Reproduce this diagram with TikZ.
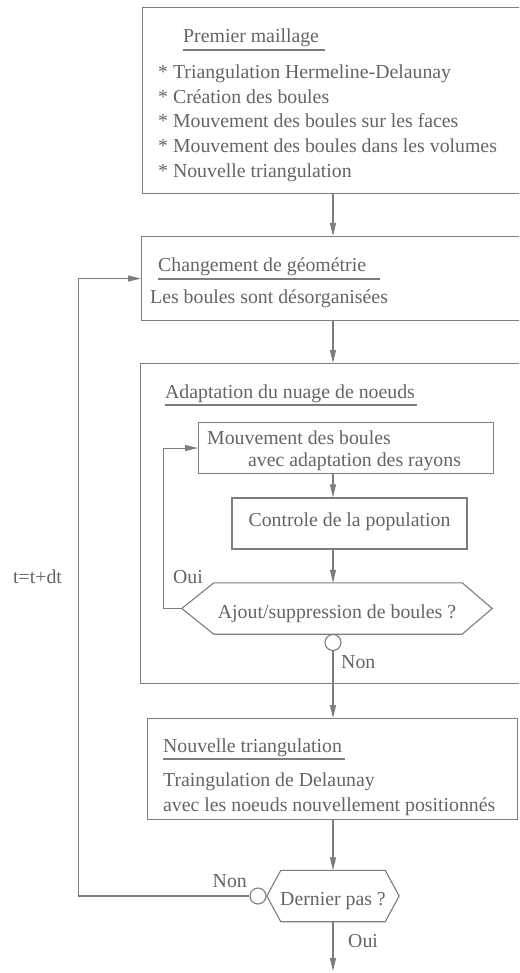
\documentclass[tikz,border=0pt]{standalone}
\usepackage{fontspec}
\setmainfont{Liberation Serif}
\usetikzlibrary{arrows.meta, positioning}
\definecolor{linegray}{RGB}{125,125,125}
\definecolor{textgray}{RGB}{100,100,100}
\newcommand{\boxfont}{\fontsize{19.8}{24}\selectfont}

\begin{document}
\begin{tikzpicture}[x=1pt, y=-1pt,
    box/.style={rectangle, draw=linegray, line width=1.1pt, anchor=north west, inner sep=0pt},
    inbox/.style={rectangle, draw=linegray, line width=1.1pt, inner sep=0pt,
                  minimum height=51pt, text=textgray, font=\boxfont},
    hexa/.style={inner sep=0pt, minimum height=51pt, text height=19pt, text depth=0pt,
                 text=textgray, font=\boxfont},
    txt/.style={anchor=base west, inner sep=0pt, text=textgray, font=\boxfont},
    rond/.style={circle, draw=linegray, line width=1.1pt, minimum size=16pt, inner sep=0pt},
    ln/.style={draw=linegray, line width=1.1pt},
    arr/.style={ln, -{Triangle[length=13pt, width=6pt]}}
  ]
  \clip (0,0) rectangle (519,973);
  \coordinate (spine) at (333,0);

  % premier maillage
  \node[box, minimum width=390pt, minimum height=186pt] (premier) at (142,7) {};
  \node[txt] (premtitle) at (183,43) {Premier maillage};
  \node[txt] (prem1) at (158,79) {* Triangulation Hermeline-Delaunay};
  \node[txt] (prem2) at (158,104) {* Création des boules};
  \node[txt] (prem3) at (158,128) {* Mouvement des boules sur les faces};
  \node[txt] (prem4) at (158,153) {* Mouvement des boules dans les volumes};
  \node[txt] (prem5) at (158,178) {* Nouvelle triangulation};
  \draw[ln] ([yshift=-7pt]premtitle.base west) -- ([xshift=6pt, yshift=-7pt]premtitle.base east);

  % changement de geometrie
  \node[box, minimum width=390pt, minimum height=84pt] (geom) at (141,236) {};
  \node[txt] (geomtitle) at (158,272) {Changement de géométrie};
  \node[txt] (geom1) at (150,303) {Les boules sont désorganisées};
  \draw[ln] ([yshift=-7pt]geomtitle.base west) -- ([xshift=14pt, yshift=-7pt]geomtitle.base east);

  % adaptation du nuage
  \node[box, minimum width=390pt, minimum height=320pt] (adapt) at (140,363) {};
  \node[txt] (adapttitle) at (165,398) {Adaptation du nuage de noeuds};
  \draw[ln] ([yshift=-7pt]adapttitle.base west) -- ([xshift=2pt, yshift=-7pt]adapttitle.base east);

  \node[box, minimum width=295pt, minimum height=51pt] (mouv) at (198,422) {};
  \node[txt, align=left, font=\fontsize{19.8}{22}\selectfont] (mouvtxt) at (207,466)
    {Mouvement des boules\\\hspace*{41pt}avec adaptation des rayons};
  \node[inbox, minimum width=235pt, text height=10pt, text depth=4pt] (ctrl) at (349.5,523.5) {Controle de la population};
  \node[hexa, minimum width=310pt] (ajout) at (337,608.5) {Ajout/suppression de boules ?};
  \draw[ln] (ajout.west) -- ([xshift=32pt]ajout.north west) -- ([xshift=-30pt]ajout.north east)
    -- (ajout.east) -- ([xshift=-30pt]ajout.south east) -- ([xshift=32pt]ajout.south west) -- cycle;
  \node[rond] (rond1) at (333,642.5) {};
  \node[txt] (ouilbl1) at (173,583) {Oui};
  \node[txt] (nonlbl1) at (341,668) {Non};

  % nouvelle triangulation
  \node[box, minimum width=370pt, minimum height=101pt] (nouv) at (147,718) {};
  \node[txt] (nouvtitle) at (163,752) {Nouvelle triangulation};
  \node[txt] (nouv1) at (163,786) {Traingulation de Delaunay};
  \node[txt] (nouv2) at (163,811) {avec les noeuds nouvellement positionnés};
  \draw[ln] ([yshift=-7pt]nouvtitle.base west) -- ([xshift=3pt, yshift=-7pt]nouvtitle.base east);

  % dernier pas
  \node[hexa, minimum width=132pt] (dernier) at (333,896) {Dernier pas ?};
  \draw[ln] (dernier.west) -- ([xshift=14pt]dernier.north west) -- ([xshift=-14pt]dernier.north east)
    -- (dernier.east) -- ([xshift=-14pt]dernier.south east) -- ([xshift=14pt]dernier.south west) -- cycle;
  \node[rond] (rond2) at (258,896) {};
  \node[txt, anchor=base east] (nonlbl2) at (247,887) {Non};
  \node[txt] (ouilbl2) at (348,947) {Oui};
  \node[txt] (pas) at (13,583) {t=t+dt};
  \coordinate (fin) at (333,971);

  \draw[arr] (premier.south -| spine) -- (geom.north -| spine);
  \draw[arr] (geom.south -| spine) -- (adapt.north -| spine);
  \draw[arr] (mouv.south -| spine) -- (ctrl.north -| spine);
  \draw[arr] (ctrl.south -| spine) -- (ajout.north -| spine);
  \draw[arr] (ajout.west) -- ++(-18,0) |- (mouv.west);
  \draw[arr] (rond1.south) -- (nouv.north -| rond1);
  \draw[arr] (nouv.south -| spine) -- (dernier.north -| spine);
  \draw[arr] (dernier.south) -- (fin);
  \draw[arr] (rond2.west) -- ++(-171,0) |- (geom.west);
\end{tikzpicture}
\end{document}
